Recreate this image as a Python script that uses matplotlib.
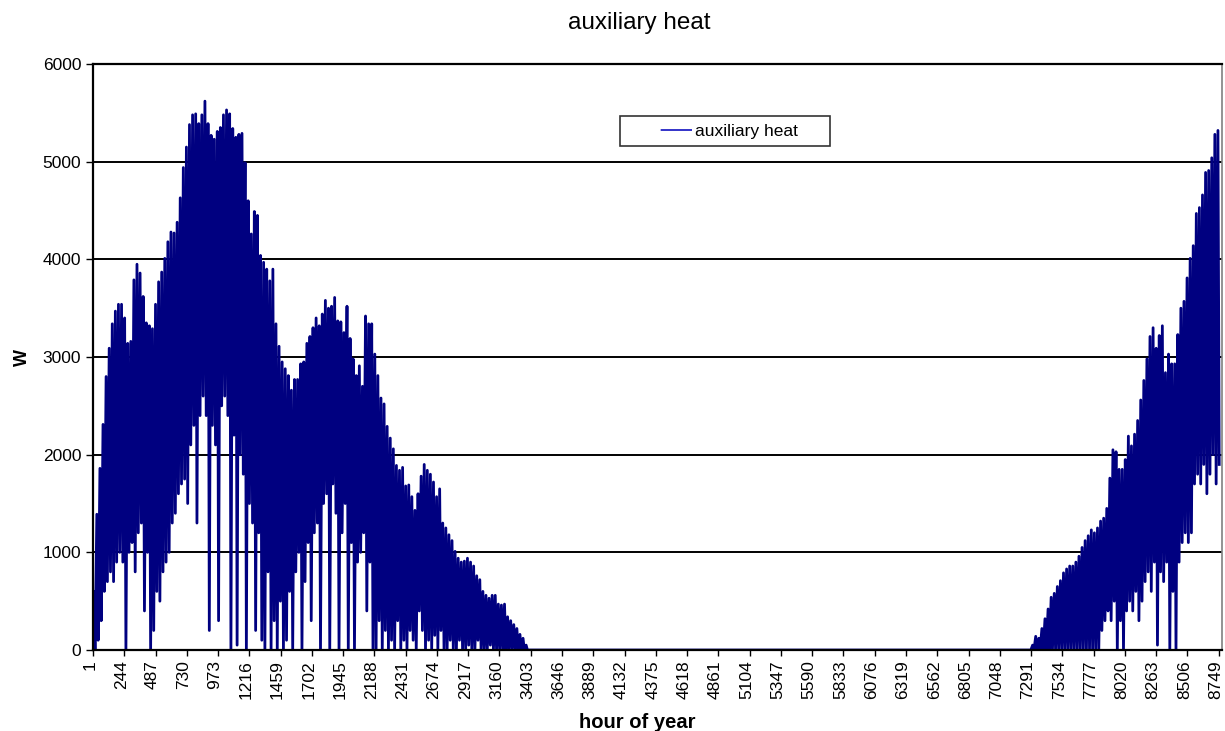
import numpy as np
import matplotlib.pyplot as plt
from matplotlib.transforms import ScaledTranslation

plt.rcParams['font.family'] = ['Liberation Sans', 'DejaVu Sans']

# daily maximum and minimum of the auxiliary heat (W)
# heating season at the start of the year: days 0..140
peak_early = [600, 1390, 1860, 2310, 2800, 3090, 3340, 3470, 3540, 3540,
              3400, 3140, 3160, 3790, 3950, 3860, 3620, 3350, 3320, 3290,
              3540, 3770, 3870, 4010, 4180, 4280, 4270, 4380, 4630, 4940,
              5150, 5380, 5480, 5490, 5390, 5480,
              5620, 5390, 5270, 5230, 5310, 5350, 5480, 5530, 5490, 5340,
              5250, 5280, 5290, 4990, 4600, 4260, 4490, 4450, 4040, 3970,
              3900, 3780, 3900, 3340, 3110, 2950, 2880, 2810, 2660, 2770,
              2770, 2930, 2950, 3140, 3210, 3300, 3400,
              3320, 3440, 3580, 3500, 3520, 3610, 3370, 3360, 3250, 3520,
              3190, 2980, 2810, 2910, 2700, 3420, 3340, 3340, 3030, 2810,
              2580, 2520, 2290, 2170, 2060, 1890, 1840, 1870, 1680, 1690,
              1570, 1430, 1600, 1780, 1900, 1840, 1800,
              1720, 1570, 1650, 1300, 1250, 1180, 1120, 1010, 940, 900,
              910, 940, 900, 860, 760, 720, 600, 560, 530, 560,
              560, 470, 460, 470, 340, 300, 260, 220, 160, 120, 50]
low_early = [0, 100, 300, 600, 700, 800, 700, 900, 1000, 900,
             0, 1000, 1100, 800, 1200, 1300, 400, 1000, 0, 200,
             600, 500, 800, 900, 1000, 1300, 1400, 1600, 1700, 1750,
             1500, 2100, 2300, 1300, 2400, 2600,
             2400, 200, 2300, 2100, 300, 2500, 2600, 2400, 0, 2200,
             50, 2000, 1800, 0, 1500, 1300, 200, 1200, 100, 0,
             800, 0, 300, 0, 500, 0, 100, 600, 0, 800,
             1000, 0, 700, 1100, 300, 1200,
             1300, 0, 1500, 1600, 0, 1700, 1400, 0, 1200, 1500,
             0, 1100, 0, 900, 1000, 1200, 400, 900, 0, 0,
             300, 0, 200, 0, 100, 0, 300, 0, 100, 0,
             200, 100, 0, 400, 200, 0, 100,
             0, 150, 0, 200, 0, 0, 100, 0, 0, 100,
             0, 0, 50, 0, 0, 100, 0, 0, 0, 50,
             0, 0, 0, 0, 0, 0, 0, 0, 0, 0, 0, 0]

# heating season at the end of the year: days 304..364
peak_late = [50, 140, 120, 220, 320, 420, 540, 580, 650, 710,
             790, 830, 860, 860, 900, 960, 1050, 1120, 1170, 1230,
             1200, 1250, 1320, 1350, 1450, 1760, 2050, 2030, 1850, 1850,
             1950, 2190, 2090, 2210, 2350, 2560, 2760, 2980, 3210, 3300,
             3090, 3220, 3320, 2840, 3030, 2930, 2930, 3230, 3500, 3570,
             3810, 4010, 4140, 4470, 4530, 4660, 4890, 4910, 5040, 5280,
             5320]
low_late = [0, 0, 0, 0, 0, 0, 0, 0, 0, 0,
            0, 0, 0, 0, 0, 0, 0, 0, 0, 0,
            0, 0, 200, 300, 400, 300, 500, 0, 300, 0,
            400, 500, 400, 600, 300, 500, 700, 800, 600, 900,
            50, 800, 700, 900, 0, 600, 0, 900, 1100, 1200,
            1100, 1200, 1700, 1800, 1700, 1900, 1600, 1800, 2000, 1700,
            1900]
late_start = 304

tick_hours = list(range(1, 8760, 243))

# put the daily values on the hour axis
n_days = 365
peak = np.zeros(n_days)
low = np.zeros(n_days)
peak[:len(peak_early)] = peak_early
low[:len(low_early)] = low_early
peak[late_start:] = peak_late
low[late_start:] = low_late
days = np.arange(n_days)
hours = np.column_stack([24 * days + 7, 24 * days + 17]).ravel()
watts = np.column_stack([peak, low]).ravel()

fig = plt.figure(figsize=(12.25, 7.31), dpi=100)
ax = fig.add_axes([0.0759, 0.1108, 0.9217, 0.8016])

ax.plot(hours, watts, color='#000080', lw=2.0, label='auxiliary heat')

ax.set_xlim(1, 8775)
ax.set_ylim(0, 6000)
ax.set_yticks(range(0, 6001, 1000))
ax.set_xticks(tick_hours)
ax.set_xticklabels([str(h) for h in tick_hours], rotation=90, fontsize=12.5)
ax.tick_params(axis='y', labelsize=12.5, length=5, width=1, direction='out')
ax.tick_params(axis='x', length=4, width=1, direction='out')
# nudge the rotated labels a little to the left, as in the original
shift = ScaledTranslation(-3 / 100, 0, fig.dpi_scale_trans)
for lab in ax.get_xticklabels():
    lab.set_transform(lab.get_transform() + shift)
ax.yaxis.grid(True, color='black', lw=1.4)
ax.set_axisbelow(True)

for s in ['left', 'bottom', 'top']:
    ax.spines[s].set_linewidth(1.6)
    ax.spines[s].set_color('black')
ax.spines['right'].set_color('#808080')
ax.spines['right'].set_linewidth(1.2)

fig.text(0.522, 0.968, 'auxiliary heat', fontsize=17.5, ha='center', va='center')
ax.set_xlabel('hour of year', fontsize=14.5, fontweight='bold', labelpad=10)
ax.xaxis.label.set_x(0.482)
ax.set_ylabel('W', fontsize=13, fontweight='bold', labelpad=8)

leg = ax.legend(loc='center', bbox_to_anchor=(0.4668, 0.8618, 0.186, 0.0478),
                mode='expand', borderaxespad=0, fontsize=12.5,
                frameon=True, fancybox=False, handlelength=3.73,
                borderpad=0.4, handletextpad=0.2)
leg.get_frame().set_edgecolor('black')
leg.get_frame().set_linewidth(1.2)
for line in leg.get_lines():
    line.set_linewidth(1.2)
    line.set_color('#1010c0')
    # blank first part of the handle so the short line sits near the text
    line.set_linestyle((26.6 + 200 - 20.2, (26.6, 200)))

fig.savefig('out.png', dpi=100)
